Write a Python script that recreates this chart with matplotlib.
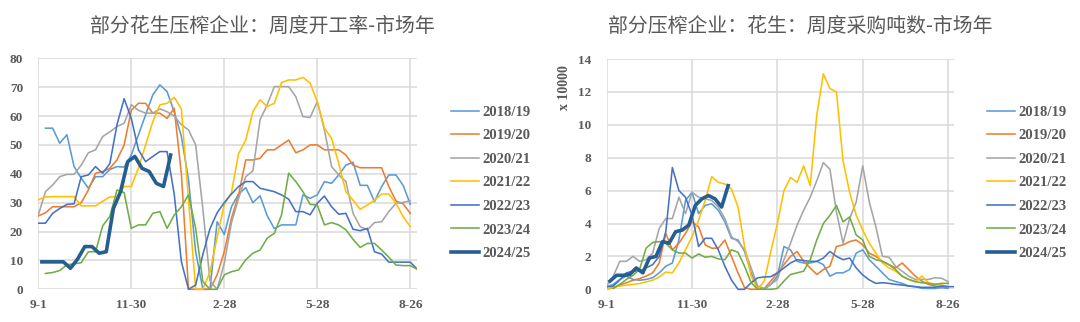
import numpy as np
import matplotlib
matplotlib.use("Agg")
import matplotlib.pyplot as plt
from matplotlib.patches import Rectangle

# seasons and colours (Excel palette)
seasons = ["2018/19", "2019/20", "2020/21", "2021/22", "2022/23", "2023/24", "2024/25"]
colors = ["#5B9BD5", "#ED7D31", "#A5A5A5", "#FFC000", "#4472C4", "#70AD47", "#255E91"]
starts = [0, 0, 0, 0, 0, 0, 0.5]   # week offset of first point (2024/25 starts half a week in)

x_ticks = [0, 13, 26, 39, 52]
x_labels = ["9-1", "11-30", "2-28", "5-28", "8-26"]

# left chart: weekly operating rate (%)
rate_1819 = [None, 55.8, 55.8, 50.6, 53.5, 42.5, 38.5, 35, 39, 39, 41.5, 42.5, 42.3, 46.5, 53.5, 60.4, 67.3,
             70.8, 68.5, 61.5, 53, 38, 13, 0, 0, 23.4, 19, 28.6, 33, 35.2, 30, 32.4, 25.5, 21, 22.3, 22.3,
             22.3, 32.7, 31.5, 32.7, 37.3, 36.7, 39.6, 43, 44, 36, 36, 30.4, 35.6, 39.6, 39.6, 36, 29.5]
rate_1920 = [25.4, 26.5, 28.6, 28.6, 28.6, 28.6, 30, 34.4, 40.2, 40.8, 41.9, 44.8, 50, 62, 64.4, 64.4, 61,
             61, 59.2, 62.7, 40, 0, 0, 0, 0, 5, 13, 24.6, 32.7, 44.8, 44.8, 45.4, 48.3, 48.3, 50, 51.7, 47.3,
             48.3, 50, 50, 48.3, 48.3, 48.3, 46.5, 43, 42.1, 42.1, 42.1, 42.1, 35.6, 30.6, 29.6, 26.3]
rate_2021 = [25.7, 33.8, 36.1, 39, 39.8, 39.8, 43, 47.3, 48.3, 52.9, 54.5, 56.4, 57.5, 63.9, 62, 61, 61,
             62.5, 61.5, 60, 57, 55.2, 50, 28, 3, 0, 9, 23, 31.5, 39, 41, 58.7, 63.9, 70.2, 70.2, 70.2, 66.7,
             59.8, 59.5, 65, 55.2, 42.5, 39.6, 37.3, 26.3, 21.7, 20.6, 23.1, 23.4, 26.9, 29.8, 30.1, 30.7]
rate_2122 = [31, 32, 32.1, 32.1, 32.1, 32.1, 28.9, 28.9, 28.9, 30.5, 32, 32, 35.6, 35.6, 42, 50, 58, 63.9,
             64.4, 66.5, 62.5, 31, 0, 0, 6, 18, 29.5, 33.5, 47, 51.7, 61.5, 65.6, 63.3, 64.4, 71.6, 72.5,
             72.5, 73.4, 71.4, 65, 55.8, 52.3, 43.6, 33.8, 30.9, 27.7, 29.2, 30.9, 33, 33, 29.8, 25.2, 21.7]
rate_2223 = [22.9, 22.9, 26.3, 28, 29.4, 29.6, 39, 39.6, 42.5, 40.2, 43.5, 57, 66, 59.2, 48.3, 44.2, 46,
             47.7, 47.7, 33, 9.6, 0, 1.5, 12, 21, 26.5, 30, 33, 35.6, 37.3, 37.3, 35, 34.4, 33.8, 32.7, 31.2,
             26.9, 26.9, 25.8, 29.8, 32.3, 28.6, 26, 26.3, 20.8, 20.3, 21.1, 13, 12.2, 9.4, 9.4, 9.4, 9.4, 6.9]
rate_2324 = [None, 5.5, 5.8, 6.5, 8.5, 8.8, 9.2, 13, 13, 22, 25.2, 34.4, 33.5, 21.1, 22.3, 22.3, 26.3, 26.9,
             21.1, 25.7, 28.6, 32.7, 21.1, 2.7, 0, 0, 5, 6.1, 6.7, 10.2, 12.5, 13.6, 17.7, 19.4, 25.7, 40.2,
             37.3, 33.8, 29.4, 29.2, 22.3, 23.1, 22.3, 20.6, 17.3, 14.5, 15.9, 15.9, 13.6, 11.1, 8.4, 8.2,
             8.2, 6.9]
rate_2425 = [9.5, 9.5, 9.5, 9.5, 7.3, 10.5, 14.8, 14.8, 12.5, 13, 28, 33.8, 44.2, 46, 41.9, 40.8, 36.7,
             35.6, 46.5]

# right chart: weekly purchase tonnage (x 10000 t)
buy_1819 = [0.15, 0.3, 0.6, 0.8, 0.6, 0.55, 0.6, 0.7, 1.0, 1.4, 1.6, 3.0, 5.4, 5.9, 4.6, 5.1, 5.2, 4.8, 4.1,
            3.1, 3.0, 2.3, 1.0, 0.1, 0, 0.3, 0.8, 2.6, 2.4, 1.7, 1.6, 1.6, 1.7, 1.5, 0.8, 1.0, 1.0, 1.2, 2.2,
            2.4, 1.8, 1.4, 1.0, 0.6, 0.47, 0.36, 0.2, 0.16, 0.06, 0.05, 0.05, 0.1, 0.05]
buy_1920 = [0, 0.1, 0.25, 0.4, 0.55, 0.65, 0.8, 1.0, 1.6, 3.4, 2.4, 2.8, 3.4, 4.1, 3.8, 2.7, 2.5, 2.5, 3.0,
            2.0, 1.0, 0.1, 0, 0, 0.05, 0.5, 1.0, 1.5, 2.0, 2.3, 1.7, 1.3, 0.9, 1.2, 1.4, 2.6, 2.7, 2.9, 3.0,
            2.7, 2.2, 2.0, 1.7, 1.5, 1.3, 1.6, 1.2, 0.8, 0.5, 0.3, 0.2, 0.15, 0.1]
buy_2021 = [0.2, 0.8, 1.7, 1.7, 2.0, 1.7, 1.8, 2.2, 3.7, 4.3, 4.3, 5.6, 4.6, 5.9, 5.6, 5.5, 5.4, 5.0, 4.3,
            3.2, 2.9, 2.4, 1.3, 0.2, 0.05, 0.3, 0.6, 1.8, 2.8, 3.9, 4.8, 5.6, 6.6, 7.7, 7.3, 4.7, 2.8, 4.3,
            5.3, 7.5, 5.3, 3.8, 2.0, 1.95, 1.4, 1.1, 0.8, 0.6, 0.6, 0.6, 0.7, 0.67, 0.47]
buy_2122 = [0, 0.15, 0.2, 0.25, 0.3, 0.35, 0.45, 0.55, 0.75, 1.05, 1.0, 1.6, 2.4, 3.2, 4.2, 5.4, 6.85, 6.5,
            6.4, 6.1, 5.0, 2.6, 0.8, 0, 0.5, 2.3, 4.0, 6.0, 6.8, 6.5, 7.5, 6.3, 10.6, 13.1, 12.2, 12.0, 7.8,
            5.9, 4.5, 3.6, 2.8, 2.2, 1.6, 1.3, 1.1, 0.8, 0.6, 0.45, 0.8, 0.4, 0.3, 0.26, 0.16]
buy_2223 = [0.15, 0.2, 0.57, 1.0, 1.1, 1.1, 1.3, 1.5, 2.0, 3.5, 7.4, 6.0, 5.6, 4.5, 2.6, 3.1, 3.1, 2.4, 1.4,
            0.57, 0, 0, 0.4, 0.7, 0.75, 0.77, 1.0, 1.3, 1.6, 1.8, 1.75, 1.7, 1.7, 1.9, 2.3, 2.0, 1.8, 1.9,
            1.3, 0.87, 0.57, 0.36, 0.4, 0.36, 0.3, 0.26, 0.2, 0.16, 0.12, 0.12, 0.12, 0.2, 0.16, 0.16]
buy_2324 = [None, 0.05, 0.3, 0.6, 0.85, 1.2, 2.5, 2.85, 2.9, 2.8, 2.4, 2.2, 2.2, 1.9, 2.15, 1.95, 2.0, 1.85,
            1.8, 2.4, 2.25, 1.4, 0.4, 0, 0, 0, 0.05, 0.5, 0.9, 1.0, 1.1, 1.8, 3.0, 4.0, 4.5, 5.1, 4.1, 4.4,
            3.3, 3.0, 2.0, 1.8, 1.7, 1.5, 1.2, 0.8, 0.6, 0.47, 0.4, 0.36, 0.3, 0.36, 0.36]
buy_2425 = [0.5, 0.85, 0.85, 0.9, 1.3, 1.0, 1.9, 2.0, 2.9, 2.8, 3.5, 3.6, 3.9, 5.1, 5.5, 5.7, 5.5, 5.0, 6.3]

rate_series = [rate_1819, rate_1920, rate_2021, rate_2122, rate_2223, rate_2324, rate_2425]
buy_series = [buy_1819, buy_1920, buy_2021, buy_2122, buy_2223, buy_2324, buy_2425]

grey_txt = "#595959"
grid_col = "#D9D9D9"
cjk = ["Noto Sans CJK SC", "DejaVu Sans"]
tick_font = {"family": "Liberation Serif", "weight": "bold", "size": 9.5}

W, H = 1080, 322
fig = plt.figure(figsize=(W / 100, H / 100), dpi=100)


def px_axes(x0, x1, ytop, ybot):
    return fig.add_axes([x0 / W, 1 - ybot / H, (x1 - x0) / W, (ybot - ytop) / H])


def draw(ax, series, ymax, ystep):
    # let lines lying on 0 show fully, like Excel does
    clip = Rectangle((0, -0.05), 1, 1.1, transform=ax.transAxes, visible=False)
    ax.add_patch(clip)
    handles = []
    for vals, c, s0, name in zip(series, colors, starts, seasons):
        y = np.array(vals, dtype=float)
        x = s0 + np.arange(len(y))
        lw = 2.6 if name == "2024/25" else 1.15
        ln, = ax.plot(x, y, color=c, lw=lw, label=name, solid_joinstyle="round")
        ln.set_clip_path(clip)
        handles.append(ln)
    ax.set_xlim(0, 52.9)
    ax.set_ylim(0, ymax)
    ax.set_yticks(np.arange(0, ymax + 0.01, ystep))
    ax.set_xticks(x_ticks)
    ax.set_xticklabels(x_labels)
    ax.grid(True, color=grid_col, lw=1.1)
    ax.set_axisbelow(True)
    for sp in ax.spines.values():
        sp.set_visible(False)
    ax.tick_params(length=0, colors=grey_txt)
    ax.tick_params(axis="y", pad=11)
    ax.tick_params(axis="x", pad=7)
    for lab in ax.get_xticklabels() + ax.get_yticklabels():
        lab.set_fontfamily(tick_font["family"])
        lab.set_fontweight(tick_font["weight"])
        lab.set_fontsize(tick_font["size"])
    return handles


ax1 = px_axes(38.3, 416.7, 58.3, 289.3)
h1 = draw(ax1, rate_series, 80, 10)
ax2 = px_axes(606.7, 954, 59, 289.3)
h2 = draw(ax2, buy_series, 14, 2)

fig.text(262 / W, 1 - 26 / H, "部分花生压榨企业：周度开工率-市场年", ha="center", va="center",
         fontsize=14.3, color=grey_txt, family=cjk)
fig.text(800 / W, 1 - 26 / H, "部分压榨企业：花生：周度采购吨数-市场年", ha="center", va="center",
         fontsize=14.3, color=grey_txt, family=cjk)
fig.text(565 / W, 1 - 88 / H, "x 10000", rotation=90, ha="center", va="center",
         fontsize=10, color=grey_txt, family="Liberation Serif", fontweight="bold")

leg_kw = dict(frameon=False, loc="upper left", borderpad=0, borderaxespad=0,
              handlelength=1.95, handletextpad=0.2, labelspacing=0.71,
              prop={"family": "Liberation Serif", "weight": "bold", "size": 10.5},
              labelcolor=grey_txt)
fig.legend(h1, seasons, bbox_to_anchor=(451 / W, 1 - 105.5 / H), **leg_kw)
fig.legend(h2, seasons, bbox_to_anchor=(987 / W, 1 - 105.5 / H), **leg_kw)

fig.savefig("out.png", dpi=100)
